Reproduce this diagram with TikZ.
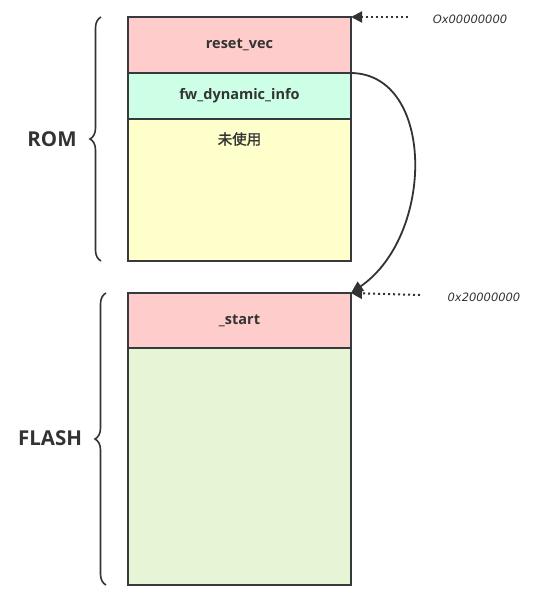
\documentclass[tikz,border=0pt]{standalone}
\usepackage{fontspec}
\setmainfont{Open Sans}
\newfontfamily\cjk[AutoFakeBold=1.5]{Noto Sans CJK SC}
\newfontfamily\addrfont{DejaVu Sans}
\usetikzlibrary{arrows.meta,decorations.pathreplacing}
\definecolor{txt}{HTML}{333333}
\definecolor{edge}{HTML}{36393D}
\definecolor{cred}{HTML}{FFCCCC}
\definecolor{cmint}{HTML}{CCFFE6}
\definecolor{cyel}{HTML}{FFFFCC}
\definecolor{cgreen}{HTML}{E6F5D6}
\begin{document}
\begin{tikzpicture}[x=1pt,y=-1pt,
  blk/.style={draw=edge,line width=2pt,minimum width=223pt,inner sep=0pt,outer sep=0pt,
    font=\bfseries\fontsize{14.5}{16}\selectfont,text=txt},
  side/.style={font=\bfseries\fontsize{20.5}{22}\selectfont,text=txt},
  addr/.style={font=\addrfont\itshape\fontsize{11.5}{13}\selectfont,text=txt},
  ptr/.style={dash pattern=on 2pt off 3pt,line width=2pt,draw=txt,-{Triangle[length=11pt,width=11pt]}},
  brc/.style={draw=txt,line width=1.6pt,decorate,decoration={brace,amplitude=11pt}}]
\useasboundingbox (0,0) rectangle (540,605);
\node[blk,fill=cred,minimum height=56pt] (reset) at (239.5,45) {reset\_vec};
\node[blk,fill=cmint,minimum height=46pt] (fw) at (239.5,96) {fw\_dynamic\_info};
\node[blk,fill=cyel,minimum height=142pt] (unused) at (239.5,190) {};
\node[font=\cjk\bfseries\fontsize{14.5}{16}\selectfont,text=txt] (unusedtxt) at (239.5,139) {未使用};
\node[blk,fill=cred,minimum height=55pt] (start) at (239.5,320.5) {\_start};
\node[blk,fill=cgreen,minimum height=237pt] (flash) at (239.5,466.5) {};
\coordinate (romb) at (101,261);
\coordinate (romt) at (101,17);
\draw[brc] (romb) -- (romt);
\node[side] (rom) at (52,139) {ROM};
\coordinate (flb) at (106,585);
\coordinate (flt) at (106,293);
\draw[brc] (flb) -- (flt);
\node[side] (fl) at (50,438) {FLASH};
\node[addr] (a0) at (470,19) {Ox00000000};
\node[addr] (a2) at (484,297) {0x20000000};
\coordinate (p0) at (408,17);
\coordinate (p2) at (420,295);
\draw[ptr] (p0) -- (reset.north east);
\draw[ptr] (p2) -- (start.north east);
\draw[line width=1.8pt,draw=txt,-{Triangle[length=12pt,width=11pt]}] (fw.north east) .. controls (435,74) and (435,235) .. (start.north east);
\end{tikzpicture}
\end{document}
